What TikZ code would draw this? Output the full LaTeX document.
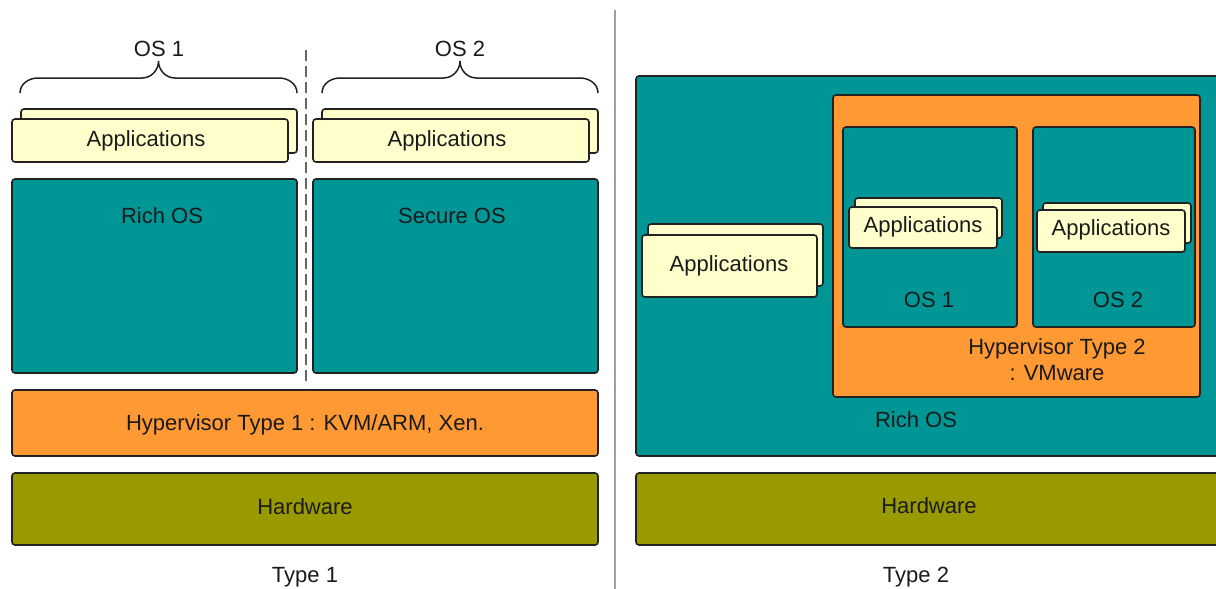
\documentclass[tikz,border=0pt]{standalone}
\usepackage{fontspec}
\setmainfont{Liberation Sans}
\definecolor{tealc}{HTML}{009696}
\definecolor{orangec}{HTML}{FF9933}
\definecolor{olivec}{HTML}{999900}
\definecolor{creamc}{HTML}{FFFFCC}
\definecolor{edgec}{HTML}{222222}
\definecolor{txtc}{HTML}{1A1A1A}
\definecolor{sepc}{HTML}{A0A0A0}
\begin{document}
\begin{tikzpicture}[x=1pt,y=-1pt,
  box/.style={draw=edgec, line width=1.6pt, rounded corners=3pt, anchor=north west, inner sep=0pt, outer sep=0pt},
  tealbox/.style={box, fill=tealc},
  orangebox/.style={box, fill=orangec},
  olivebox/.style={box, fill=olivec},
  appbox/.style={box, fill=creamc},
  lbl/.style={font=\fontsize{22}{26}\selectfont, text=txtc, inner sep=0pt, anchor=base},
  bracepath/.style={draw=edgec, line width=1.5pt},
  sep/.style={draw=sepc, line width=1.6pt},
  dashsep/.style={draw=black!60, line width=1.4pt, dash pattern=on 11pt off 5pt}
]
\useasboundingbox (0,0) rectangle (1216,589);
\clip (0,0) rectangle (1216,589);

% ---------- Type 1 ----------
\node[appbox, minimum width=276pt, minimum height=44pt] (appL1b) at (21,109) {};
\node[appbox, minimum width=276pt, minimum height=43pt] (appL1f) at (12,119) {};
\node[appbox, minimum width=276pt, minimum height=44pt] (appL2b) at (322,109) {};
\node[appbox, minimum width=276pt, minimum height=43pt] (appL2f) at (313,119) {};
\node[tealbox, minimum width=285pt, minimum height=194pt] (richL) at (12,179) {};
\node[tealbox, minimum width=285pt, minimum height=194pt] (secL) at (313,179) {};
\node[orangebox, minimum width=586pt, minimum height=66pt] (hypL) at (12,390) {};
\node[olivebox, minimum width=586pt, minimum height=72pt] (hwL) at (12,473) {};

\node[lbl] (tOS1) at (159,56) {OS 1};
\node[lbl] (tOS2) at (460,56) {OS 2};
\node[lbl] (tAppL1) at (146,146) {Applications};
\node[lbl] (tAppL2) at (447,146) {Applications};
\node[lbl] (tRichL) at (162,223) {Rich OS};
\node[lbl] (tSecL) at (452,223) {Secure OS};
\node[lbl] (tHypL) at (305,430) {Hypervisor Type 1 : KVM/ARM, Xen.};
\node[lbl] (tHwL) at (305,514) {Hardware};
\node[lbl] (tType1) at (305,582) {Type 1};

% braces
\coordinate (b1a) at (20,93);
\coordinate (b1t) at (158.5,61);
\coordinate (b1b) at (297,93);
\draw[bracepath] (b1a) to[out=90,in=180] (38,78) -- (142,78) to[out=0,in=-90] (b1t)
  to[out=-90,in=180] (175,78) -- (279,78) to[out=0,in=90] (b1b);
\coordinate (b2a) at (322,93);
\coordinate (b2t) at (460,61);
\coordinate (b2b) at (598,93);
\draw[bracepath] (b2a) to[out=90,in=180] (340,78) -- (443.5,78) to[out=0,in=-90] (b2t)
  to[out=-90,in=180] (476.5,78) -- (580,78) to[out=0,in=90] (b2b);

% dashed divider and separator
\coordinate (dTop) at (306,50);
\coordinate (dBot) at (306,386);
\draw[dashsep] (dTop) -- (dBot);
\coordinate (sTop) at (615,10);
\coordinate (sBot) at (615,589);
\draw[sep] (sTop) -- (sBot);

% ---------- Type 2 ----------
\node[tealbox, minimum width=600pt, minimum height=380pt] (richR) at (636,76) {};
\node[orangebox, minimum width=367pt, minimum height=302pt] (hypR) at (833,95) {};
\node[tealbox, minimum width=174pt, minimum height=200pt] (os1R) at (843,127) {};
\node[tealbox, minimum width=162pt, minimum height=200pt] (os2R) at (1033,127) {};
\node[appbox, minimum width=147pt, minimum height=40pt] (appR1b) at (855,198) {};
\node[appbox, minimum width=148pt, minimum height=41pt] (appR1f) at (849,207) {};
\node[appbox, minimum width=148pt, minimum height=40pt] (appR2b) at (1043,203) {};
\node[appbox, minimum width=148pt, minimum height=42pt] (appR2f) at (1037,210) {};
\node[appbox, minimum width=175pt, minimum height=62pt] (appR0b) at (648,224) {};
\node[appbox, minimum width=175pt, minimum height=62pt] (appR0f) at (642,235) {};
\node[olivebox, minimum width=600pt, minimum height=72pt] (hwR) at (636,473) {};

\node[lbl] (tAppR0) at (729,271) {Applications};
\node[lbl] (tAppR1) at (923,232) {Applications};
\node[lbl] (tAppR2) at (1111,235) {Applications};
\node[lbl] (tOS1R) at (929,307) {OS 1};
\node[lbl] (tOS2R) at (1118,307) {OS 2};
\node[lbl] (tHypR1) at (1057,354) {Hypervisor Type 2};
\node[lbl] (tHypR2) at (1057,380) {: VMware};
\node[lbl] (tRichR) at (916,427) {Rich OS};
\node[lbl] (tHwR) at (929,513) {Hardware};
\node[lbl] (tType2) at (916,582) {Type 2};
\end{tikzpicture}
\end{document}
